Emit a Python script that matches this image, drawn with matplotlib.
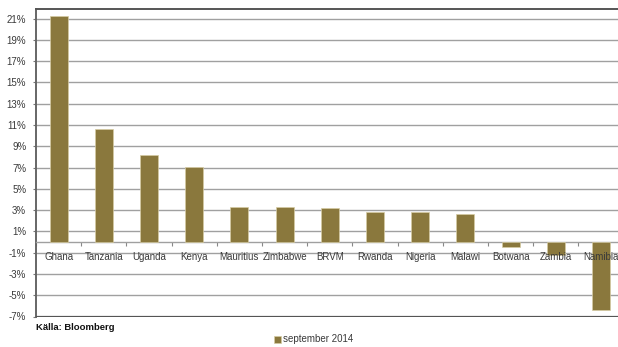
import numpy as np
import matplotlib.pyplot as plt
from matplotlib.ticker import FixedLocator, FuncFormatter

# data (percent change, september 2014)
countries = ['Ghana', 'Tanzania', 'Uganda', 'Kenya', 'Mauritius', 'Zimbabwe', 'BRVM',
             'Rwanda', 'Nigeria', 'Malawi', 'Botwana', 'Zambia', 'Namibia']
values = [21.27, 10.61, 8.17, 7.02, 3.32, 3.32, 3.23, 2.82, 2.82, 2.64, -0.49, -1.21, -6.43]
yticks = [-7, -5, -3, -1, 1, 3, 5, 7, 9, 11, 13, 15, 17, 19, 21]

bar_col = '#8a783d'
grid_col = '#a0a0a0'
txt_col = '#3a3a3a'
plt.rcParams['font.family'] = ['Liberation Sans', 'DejaVu Sans']

fig = plt.figure(figsize=(6.18, 3.47), dpi=100)
ax = fig.add_axes([36 / 618, 30.5 / 347, 587.6 / 618, 307.5 / 347])

x = np.arange(len(countries))
ax.bar(x, values, width=0.4, color=bar_col, edgecolor='#d6cca4', linewidth=0.5,
       label='september 2014', zorder=3)

ax.set_xlim(-0.5, len(countries) - 0.5)
ax.set_ylim(-7, 21.9)

# horizontal gridlines
ax.set_yticks(yticks)
ax.yaxis.set_major_formatter(FuncFormatter(lambda v, p: '{:d}%'.format(int(v))))
ax.grid(axis='y', color=grid_col, linewidth=1.0, zorder=0)
ax.tick_params(axis='y', length=2, width=0.8, color='#777777', pad=5,
               labelsize=7, labelcolor=txt_col)
ax.axhline(-7, color='#555555', linewidth=1.6, zorder=4)

# category axis sits on the zero line
ax.spines['bottom'].set_position(('data', 0))
ax.spines['bottom'].set_color(grid_col)
ax.spines['bottom'].set_linewidth(1.0)
ax.spines['right'].set_visible(False)
ax.spines['top'].set_color('#555555')
ax.spines['top'].set_linewidth(1.4)
ax.spines['left'].set_color('#666666')
ax.spines['left'].set_linewidth(1.4)

ax.xaxis.set_major_locator(FixedLocator(np.arange(len(countries) + 1) - 0.5))
ax.xaxis.set_major_formatter(FuncFormatter(lambda v, p: ''))
ax.tick_params(axis='x', which='major', length=3, width=0.8, color='#888888', direction='out')

# category names drawn above the bars (Namibia's label overlaps its bar)
for xi, name in zip(x, countries):
    ax.annotate(name, xy=(xi, 0), xytext=(0, -10.5), textcoords='offset points',
                ha='center', va='center', fontsize=7, color=txt_col, zorder=6)

fig.text(36 / 618, 1 - 327 / 347, 'Källa: Bloomberg', fontsize=6.8, fontweight='bold',
         color='#111111', va='center', ha='left')

fig.legend(loc='center', bbox_to_anchor=(314 / 618, 1 - 339.5 / 347), frameon=False,
           handlelength=0.7, handleheight=0.7, handletextpad=0.25, fontsize=7,
           labelcolor=txt_col, borderpad=0)

fig.savefig('out.png', dpi=100)
